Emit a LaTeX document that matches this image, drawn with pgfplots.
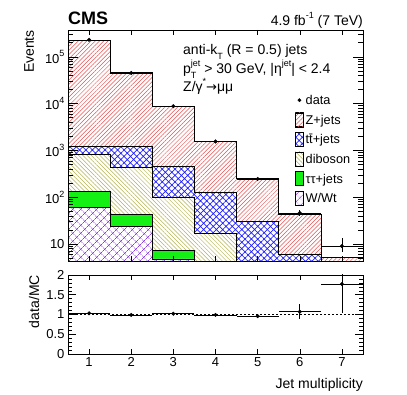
\documentclass[border=0pt]{standalone}
\usepackage{fontspec}
\setmainfont{Liberation Sans}
\newfontfamily\dejavu{DejaVu Sans}
\usepackage{pgfplots}
\pgfplotsset{compat=1.18}
\usetikzlibrary{patterns.meta}

\definecolor{zcol}{RGB}{235,80,80}
\definecolor{ttcol}{RGB}{30,30,255}
\definecolor{dibcol}{RGB}{180,180,80}
\definecolor{tautau}{RGB}{20,240,20}
\definecolor{wcol}{RGB}{140,60,220}

\newcommand{\sps}[1]{\raisebox{0.5em}{\fontsize{9bp}{9bp}\selectfont #1}}
\newcommand{\sbs}[1]{\raisebox{-0.3em}{\fontsize{9bp}{9bp}\selectfont #1}}

\pgfplotsset{
  zst/.style={preaction={fill=white}, pattern={Lines[angle=45,distance=3bp,line width=0.5bp]}, pattern color=zcol, draw=black, line width=0.7bp},
  ttst/.style={preaction={fill=white}, pattern={Hatch[angle=45,distance=4.5bp,line width=0.7bp]}, pattern color=ttcol, draw=black, line width=0.7bp},
  dibst/.style={preaction={fill=white}, pattern={Lines[angle=-45,distance=3bp,line width=0.5bp]}, pattern color=dibcol, draw=black, line width=0.7bp},
  taust/.style={fill=tautau, draw=black, line width=0.7bp},
  wst/.style={preaction={fill=white}, pattern={Hatch[angle=45,distance=6bp,line width=0.6bp]}, pattern color=wcol, draw=black, line width=0.7bp},
  cmsaxis/.style={
    scale only axis, width=295bp,
    xmin=0.5, xmax=7.5, xtick={1,...,7},
    tick align=inside, tick pos=both, axis on top,
    axis line style={line width=0.8bp},
    every tick/.style={black, line width=0.5bp},
    ticklabel style={font=\fontsize{13bp}{15bp}\selectfont},
    /pgf/number format/assume math mode=true,
    xtick style={/pgfplots/major tick length=5bp},
  },
}

\begin{document}
\begin{tikzpicture}
\useasboundingbox (0bp,0bp) rectangle (407bp,395bp);

\begin{axis}[cmsaxis, name=main, at={(68bp,134bp)}, anchor=south west, height=231bp,
  ymode=log, ymin=4.33, ymax=3.73e5,
  xticklabels={},
  ytick={10,100,1000,10000,100000},
  yticklabels={10, 10\sps{2}, 10\sps{3}, 10\sps{4}, 10\sps{5}},
  minor ytick={5,6,7,8,9,20,30,40,50,60,70,80,90,200,300,400,500,600,700,800,900,2000,3000,4000,5000,6000,7000,8000,9000,20000,30000,40000,50000,60000,70000,80000,90000,200000,300000},
  ytick style={/pgfplots/major tick length=10bp,/pgfplots/minor tick length=5bp},
  ylabel={Events},
  ylabel style={at={(axis description cs:-0.132,1)}, anchor=east, inner sep=0pt, font=\fontsize{14bp}{16bp}\selectfont},
  legend image code/.code={\draw[#1, line width=0.5bp] (0bp,-2.5bp) rectangle (8bp,11.5bp);},
  legend style={at={(axis description cs:0.7695,0.7394)}, anchor=north west, draw=none, fill=none, inner sep=0pt, row sep=0pt, column sep=2bp,
    font=\fontsize{12.7bp}{14bp}\selectfont,
    nodes={inner sep=0pt, text height=14.3bp, text depth=5.3bp, anchor=base west}},
  legend cell align=left,
]
% stacked histograms (cumulative)
\addplot[zst, const plot mark left, forget plot] coordinates {(0.5,225000) (1.5,45500) (2.5,8600) (3.5,1570) (4.5,255) (5.5,43) (6.5,5.1) (7.5,5.1)} \closedcycle;
\addplot[ttst, const plot mark left, forget plot] coordinates {(0.5,1200) (1.5,1200) (2.5,450) (3.5,125) (4.5,30) (5.5,6.1) (6.5,0.5) (7.5,0.5)} \closedcycle;
\addplot[dibst, const plot mark left, forget plot] coordinates {(0.5,830) (1.5,430) (2.5,98) (3.5,17) (4.5,0.5) (5.5,0.5) (6.5,0.5) (7.5,0.5)} \closedcycle;
\addplot[taust, const plot mark left, forget plot] coordinates {(0.5,132) (1.5,42) (2.5,7.2) (3.5,0.5) (4.5,0.5) (5.5,0.5) (6.5,0.5) (7.5,0.5)} \closedcycle;
\addplot[wst, const plot mark left, forget plot] coordinates {(0.5,61) (1.5,24) (2.5,4.8) (3.5,0.5) (4.5,0.5) (5.5,0.5) (6.5,0.5) (7.5,0.5)} \closedcycle;
% data
\addplot[only marks, mark=*, mark size=1.8bp, black, forget plot,
  error bars/.cd, x dir=both, x explicit, y dir=both, y explicit, error mark=none,
  error bar style={line width=0.6bp}]
  coordinates {
  (1,230000) +- (0.5,480)
  (2,45000) +- (0.5,212)
  (3,8780) +- (0.5,94)
  (4,1550) +- (0.5,39)
  (5,245) +- (0.5,16)
  (6,46) +- (0.5,7)
  (7,9) += (0.5,4.1) -= (0.5,2.3)
  };
% legend
\addlegendimage{black, legend image code/.code={\path[draw=none, fill=none] (0bp,-2.5bp) rectangle (8bp,11.5bp); \fill[black] (4bp,4.5bp) circle (1.7bp);}}
\addlegendentry{data}
\addlegendimage{zst}
\addlegendentry{Z+jets}
\addlegendimage{ttst}
\addlegendentry{t\={t}+jets}
\addlegendimage{dibst}
\addlegendentry{diboson}
\addlegendimage{taust}
\addlegendentry{ττ+jets}
\addlegendimage{wst}
\addlegendentry{W/Wt}
\end{axis}

\begin{axis}[cmsaxis, name=ratio, at={(68bp,41bp)}, anchor=south west, height=79bp,
  ymin=0, ymax=2, ytick={0,0.5,1,1.5,2}, minor y tick num=4,
  ytick style={/pgfplots/major tick length=8bp,/pgfplots/minor tick length=4bp},
  yticklabels={0,0.5,1,1.5,2},
  ylabel={data/MC},
  ylabel style={at={(axis description cs:-0.115,1)}, anchor=east, inner sep=0pt, font=\fontsize{14bp}{16bp}\selectfont},
  xlabel={Jet multiplicity},
  xlabel style={at={(axis description cs:1,0)}, anchor=north east, inner sep=0pt, yshift=-23.8bp, font=\fontsize{14bp}{16bp}\selectfont},
]
\addplot[black, dash pattern=on 2bp off 2bp, line width=0.6bp] coordinates {(0.5,1) (7.5,1)};
\addplot[only marks, mark=*, mark size=1.8bp, black,
  error bars/.cd, x dir=both, x explicit, y dir=both, y explicit, error mark=none,
  error bar style={line width=0.6bp}]
  coordinates {
  (1,1.03) +- (0.5,0.005)
  (2,0.99) +- (0.5,0.006)
  (3,1.02) +- (0.5,0.012)
  (4,0.99) +- (0.5,0.03)
  (5,0.96) +- (0.5,0.06)
  (6,1.07) +- (0.5,0.19)
  (7,1.77) += (0.5,0.9) -= (0.5,0.73)
  };
\end{axis}

% annotations
\node[anchor=base west, inner sep=0pt, font=\fontsize{18bp}{20bp}\selectfont\bfseries] at (68bp,370bp) {CMS};
\node[anchor=base east, inner sep=0pt, font=\fontsize{14bp}{16bp}\selectfont] at (363bp,369bp) {4.9 fb\sps{-1} (7 TeV)};
\node[anchor=base west, inner sep=0pt, font=\fontsize{14bp}{16bp}\selectfont] at (183bp,340bp) {anti-k\sbs{T} (R = 0.5) jets};
\node[anchor=base west, inner sep=0pt, font=\fontsize{14bp}{16bp}\selectfont] at (183bp,321bp) {p\rlap{\sbs{T}}\sps{jet} > 30 GeV, |η\sps{jet}| < 2.4};
\node[anchor=base west, inner sep=0pt, font=\fontsize{14bp}{16bp}\selectfont] at (183bp,303bp) {Z/γ\sps{*}{\dejavu\fontsize{13bp}{15bp}\selectfont →}μμ};
\end{tikzpicture}
\end{document}
